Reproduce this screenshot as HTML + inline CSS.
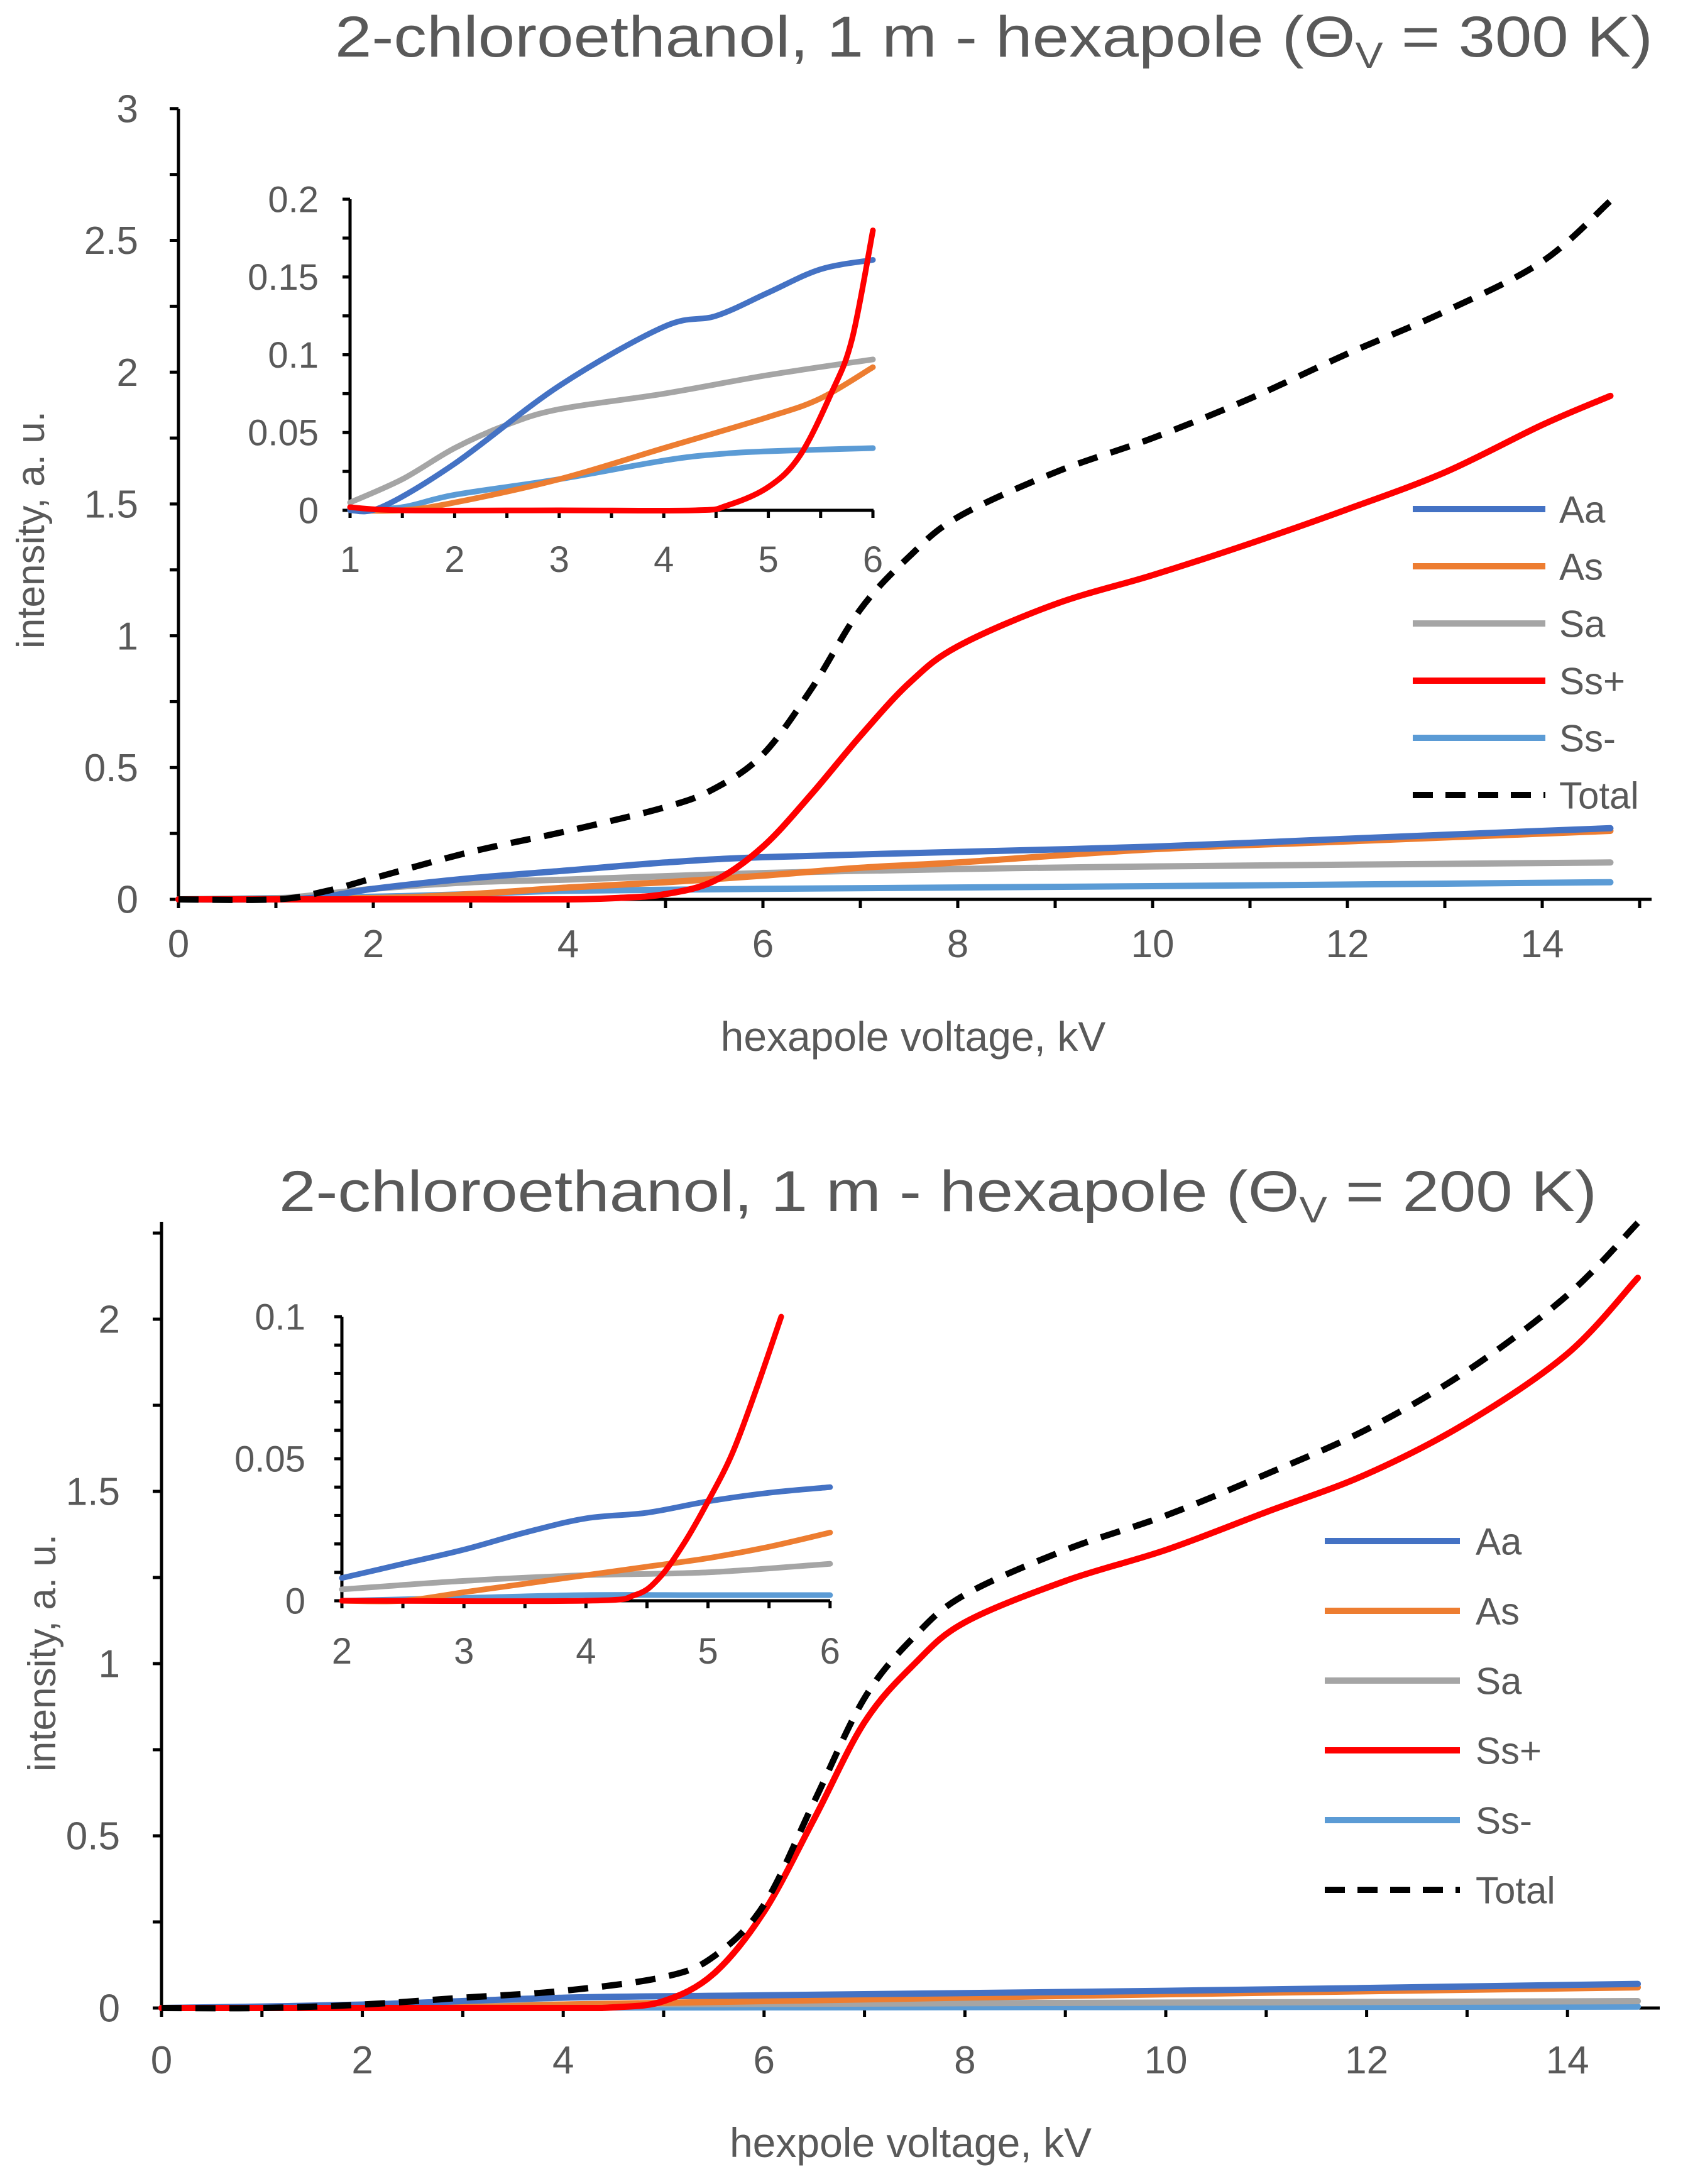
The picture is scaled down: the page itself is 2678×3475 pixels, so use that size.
<!DOCTYPE html>
<html><head><meta charset="utf-8"><style>
html,body{margin:0;padding:0;background:#fff;}
svg{display:block;font-family:"Liberation Sans",sans-serif;}
text{fill:#595959;}
</style></head><body>
<svg id="s" width="2678" height="3475" viewBox="0 0 2678 3475" xmlns="http://www.w3.org/2000/svg">
<text x="533" y="90" font-size="92" textLength="2097" lengthAdjust="spacingAndGlyphs">2-chloroethanol, 1 m - hexapole (Θ<tspan font-size="58" dy="18">V</tspan><tspan dy="-18"> = 300 K)</tspan></text>
<text x="444" y="1927" font-size="92" textLength="2097" lengthAdjust="spacingAndGlyphs">2-chloroethanol, 1 m - hexapole (Θ<tspan font-size="58" dy="18">V</tspan><tspan dy="-18"> = 200 K)</tspan></text>
<text x="1453" y="1672" font-size="66" text-anchor="middle">hexapole voltage, kV</text>
<text x="1449" y="3432" font-size="66" text-anchor="middle">hexpole voltage, kV</text>
<text transform="translate(70,843) rotate(-90)" font-size="62" text-anchor="middle">intensity, a. u.</text>
<text transform="translate(88,2630) rotate(-90)" font-size="62" text-anchor="middle">intensity, a. u.</text>
<g id="layer"></g>
</svg>
<script>
// ---------- data ----------
const seriesNames = ["Aa","As","Sa","Ss+","Ss-","Total"];
const seriesColors = ["#4472C4","#ED7D31","#A5A5A5","#FF0000","#5B9BD5","#000000"];
// chart 1 main
const c1_Aa_x=[0,1,1.5,2,3,4,5,6,8,10,12,14,14.7], c1_Aa_y=[0,0,0.01,0.04,0.08,0.11,0.14,0.16,0.18,0.2,0.23,0.26,0.27];
const c1_As_x=[0,2,3,4,5,6,7,8,10,12,14.7], c1_As_y=[0,0.005,0.02,0.045,0.065,0.09,0.12,0.14,0.19,0.22,0.26];
const c1_Sa_x=[0,1,2,3,4,6,8,10,14.7], c1_Sa_y=[0,0.003,0.04,0.065,0.075,0.1,0.115,0.125,0.14];
const c1_Sp_x=[0,1,2,3,4,4.5,5,5.5,6,6.5,7,7.5,8,9,10,11,12,13,14,14.7], c1_Sp_y=[0,0,0,0,0,0.005,0.02,0.07,0.2,0.4,0.62,0.82,0.96,1.12,1.23,1.35,1.48,1.62,1.8,1.91];
const c1_Sm_x=[0,2,3,4,6,10,14.7], c1_Sm_y=[0,0.01,0.02,0.033,0.04,0.05,0.065];
const c1_T_x=[0,1,1.5,2,3,4,5,5.5,6,6.5,7,7.5,8,9,10,11,12,13,14,14.7], c1_T_y=[0,0,0.03,0.08,0.18,0.26,0.35,0.42,0.55,0.8,1.1,1.3,1.45,1.62,1.75,1.9,2.07,2.23,2.42,2.65];
// chart 1 inset
const i1_Aa_x=[1,1.3,2,3,4,4.5,5,5.5,6], i1_Aa_y=[0,0.002,0.03,0.08,0.118,0.125,0.14,0.155,0.161];
const i1_As_x=[1,1.5,2,3,4,5,5.5,6], i1_As_y=[0,0,0.005,0.02,0.04,0.06,0.072,0.092];
const i1_Sa_x=[1,1.5,2,2.5,3,4,5,6], i1_Sa_y=[0.005,0.02,0.04,0.055,0.065,0.075,0.087,0.097];
const i1_Sp_x=[1,1.5,3,4.3,4.6,5,5.3,5.6,5.8,6], i1_Sp_y=[0.002,0,0,0,0.003,0.015,0.035,0.075,0.11,0.18];
const i1_Sm_x=[1,1.5,2,3,4,4.5,5,6], i1_Sm_y=[0,0.002,0.01,0.02,0.032,0.036,0.038,0.04];
// chart 2 main
const c2_Aa_x=[0,2,4,6,10,14.7], c2_Aa_y=[0,0.01,0.03,0.037,0.05,0.07];
const c2_As_x=[0,3,4,6,10,14.7], c2_As_y=[0,0.003,0.01,0.02,0.04,0.06];
const c2_Sa_x=[0,2,4,6,14.7], c2_Sa_y=[0,0.005,0.01,0.012,0.02];
const c2_Sp_x=[0,2,4,4.5,5,5.5,6,6.5,7,7.5,8,9,10,11,12,13,14,14.7], c2_Sp_y=[0,0,0,0.002,0.02,0.1,0.28,0.55,0.83,1.0,1.12,1.24,1.33,1.44,1.55,1.7,1.9,2.12];
const c2_Sm_x=[0,2,6,14.7], c2_Sm_y=[0,0.001,0.002,0.004];
const c2_T_x=[0,1,2,3,4,5,5.5,6,6.5,7,7.5,8,9,10,11,12,13,14,14.7], c2_T_y=[0,0,0.01,0.03,0.05,0.09,0.15,0.3,0.6,0.9,1.08,1.2,1.33,1.43,1.55,1.68,1.85,2.07,2.28];
// chart 2 inset
const i2_Aa_x=[2,2.5,3,3.5,4,4.5,5,5.5,6], i2_Aa_y=[0.008,0.013,0.018,0.024,0.029,0.031,0.035,0.038,0.04];
const i2_As_x=[2,2.5,3,3.5,4,4.5,5,5.5,6], i2_As_y=[0,0,0.003,0.006,0.009,0.012,0.015,0.019,0.024];
const i2_Sa_x=[2,3,4,5,6], i2_Sa_y=[0.004,0.007,0.009,0.01,0.013];
const i2_Sp_x=[2,4,4.4,4.6,4.8,5,5.2,5.4,5.6], i2_Sp_y=[0,0,0.002,0.008,0.02,0.035,0.052,0.075,0.1];
const i2_Sm_x=[2,3,4,5,6], i2_Sm_y=[0,0.001,0.002,0.002,0.002];
const c1_xTicks=[0,2,4,6,8,10,12,14], c1_yTicks=[0,0.5,1,1.5,2,2.5,3], c1_yLabels=["0","0.5","1","1.5","2","2.5","3"];
const i1_xTicks=[1,2,3,4,5,6], i1_yTicks=[0,0.05,0.1,0.15,0.2], i1_yLabels=["0","0.05","0.1","0.15","0.2"];
const c2_xTicks=[0,2,4,6,8,10,12,14], c2_yTicks=[0,0.5,1,1.5,2], c2_yLabels=["0","0.5","1","1.5","2"];
const i2_xTicks=[2,3,4,5,6], i2_yTicks=[0,0.05,0.1], i2_yLabels=["0","0.05","0.1"];

const NS="http://www.w3.org/2000/svg";
const layer=document.getElementById('layer');
function mk(tag,attrs,parent){const e=document.createElementNS(NS,tag);for(const k in attrs)e.setAttribute(k,attrs[k]);(parent||layer).appendChild(e);return e;}
function path(xs,ys,sx,sy){
  const p=xs.map((x,i)=>[sx(x),sy(ys[i])]);
  let d="M"+p[0][0].toFixed(1)+","+p[0][1].toFixed(1);
  for(let i=0;i<p.length-1;i++){
    const p0=p[Math.max(0,i-1)],p1=p[i],p2=p[i+1],p3=p[Math.min(p.length-1,i+2)];
    const c1=[p1[0]+(p2[0]-p0[0])/6,p1[1]+(p2[1]-p0[1])/6],c2=[p2[0]-(p3[0]-p1[0])/6,p2[1]-(p3[1]-p1[1])/6];
    d+=" C"+c1[0].toFixed(1)+","+c1[1].toFixed(1)+" "+c2[0].toFixed(1)+","+c2[1].toFixed(1)+" "+p2[0].toFixed(1)+","+p2[1].toFixed(1);
  }
  return d;
}
function axes(prefix,cfg){
  const sx=v=>cfg.x0+(v-cfg.xmin)*cfg.kx, sy=v=>cfg.y0-(v-cfg.ymin)*cfg.ky;
  const g=mk('g',{});
  
  
  mk('line',{x1:cfg.x0,y1:cfg.y0,x2:cfg.xend,y2:cfg.y0,stroke:'#000','stroke-width':cfg.aw},g);
  mk('line',{x1:cfg.x0,y1:cfg.y0,x2:cfg.x0,y2:cfg.ytop,stroke:'#000','stroke-width':cfg.aw},g);
  for(let v=cfg.xmin;sx(v)<=cfg.xend+1;v+=cfg.xminor) mk('line',{x1:sx(v),y1:cfg.y0,x2:sx(v),y2:cfg.y0-cfg.tl,stroke:'#000','stroke-width':cfg.aw},g);
  for(let v=cfg.ymin;sy(v)>=cfg.ytop-1;v+=cfg.yminor) mk('line',{x1:cfg.x0,y1:sy(v),x2:cfg.x0+cfg.tl,y2:sy(v),stroke:'#000','stroke-width':cfg.aw},g);
  cfg.xt.forEach(v=>{const t=mk('text',{x:sx(v),y:cfg.y0+cfg.xly,'font-size':cfg.fs,'text-anchor':'middle'},g);t.textContent=String(v);
    
    });
  cfg.yt.forEach((v,i)=>{const t=mk('text',{x:cfg.x0-cfg.ylx,y:sy(v)+cfg.fs*0.35,'font-size':cfg.fs,'text-anchor':'end'},g);t.textContent=cfg.yl[i];
    
    });
  return [sx,sy];
}
function series(prefix,sx,sy,xs,ys,idx,w){
  const attrs={d:path(xs,ys,sx,sy),fill:'none',stroke:seriesColors[idx],'stroke-width':w,'stroke-linecap':'round','stroke-linejoin':'round'};
  if(idx===5){attrs['stroke-dasharray']=(w*3.2)+' '+(w*2.2);attrs['stroke-linecap']='butt';}
  const e=mk('path',attrs);
  
  
}
function legend(prefix,lx1,lx2,tx,y0,step,fs){
  seriesNames.forEach((n,i)=>{
    const g=mk('g',{});
    
    
    const a={x1:lx1,y1:y0+i*step,x2:lx2,y2:y0+i*step,stroke:seriesColors[i],'stroke-width':10};
    if(i===5)a['stroke-dasharray']='32 20';
    mk('line',a,g);
    const t=mk('text',{x:tx,y:y0+i*step+fs*0.36,'font-size':fs},g);t.textContent=n;
  });
}
// chart 1
let [sx,sy]=axes('chart1',{x0:284,y0:1431,xmin:0,ymin:0,kx:155,ky:419.4,xend:2628,ytop:173,aw:5,tl:-14,xminor:1,yminor:0.25,xt:c1_xTicks,yt:c1_yTicks,yl:c1_yLabels,fs:62,xly:92,ylx:64});
series('chart1',sx,sy,c1_Sm_x,c1_Sm_y,4,10);series('chart1',sx,sy,c1_Sa_x,c1_Sa_y,2,10);series('chart1',sx,sy,c1_As_x,c1_As_y,1,10);series('chart1',sx,sy,c1_Aa_x,c1_Aa_y,0,10);series('chart1',sx,sy,c1_Sp_x,c1_Sp_y,3,10);series('chart1',sx,sy,c1_T_x,c1_T_y,5,10);
[sx,sy]=axes('inset1',{x0:557,y0:812,xmin:1,ymin:0,kx:166.4,ky:2475,xend:1390,ytop:317,aw:5,tl:-12,xminor:0.5,yminor:0.025,xt:i1_xTicks,yt:i1_yTicks,yl:i1_yLabels,fs:58,xly:98,ylx:50});
series('inset1',sx,sy,i1_Sm_x,i1_Sm_y,4,9);series('inset1',sx,sy,i1_Sa_x,i1_Sa_y,2,9);series('inset1',sx,sy,i1_As_x,i1_As_y,1,9);series('inset1',sx,sy,i1_Aa_x,i1_Aa_y,0,9);series('inset1',sx,sy,i1_Sp_x,i1_Sp_y,3,9);
legend('chart1',2248,2459,2481,810,91,60);
// chart 2
[sx,sy]=axes('chart2',{x0:257,y0:3195,xmin:0,ymin:0,kx:159.8,ky:548,xend:2641,ytop:1944,aw:5,tl:-14,xminor:1,yminor:0.25,xt:c2_xTicks,yt:c2_yTicks,yl:c2_yLabels,fs:62,xly:104,ylx:66});
series('chart2',sx,sy,c2_Sm_x,c2_Sm_y,4,10);series('chart2',sx,sy,c2_Sa_x,c2_Sa_y,2,10);series('chart2',sx,sy,c2_As_x,c2_As_y,1,10);series('chart2',sx,sy,c2_Aa_x,c2_Aa_y,0,10);series('chart2',sx,sy,c2_Sp_x,c2_Sp_y,3,10);series('chart2',sx,sy,c2_T_x,c2_T_y,5,10);
[sx,sy]=axes('inset2',{x0:544,y0:2547,xmin:2,ymin:0,kx:194.2,ky:4520,xend:1321,ytop:2095,aw:5,tl:-12,xminor:0.5,yminor:0.01,xt:i2_xTicks,yt:i2_yTicks,yl:i2_yLabels,fs:58,xly:100,ylx:58});
series('inset2',sx,sy,i2_Sm_x,i2_Sm_y,4,9);series('inset2',sx,sy,i2_Sa_x,i2_Sa_y,2,9);series('inset2',sx,sy,i2_As_x,i2_As_y,1,9);series('inset2',sx,sy,i2_Aa_x,i2_Aa_y,0,9);series('inset2',sx,sy,i2_Sp_x,i2_Sp_y,3,9);
legend('chart2',2108,2323,2348,2452,111,60);
</script>
</body></html>
